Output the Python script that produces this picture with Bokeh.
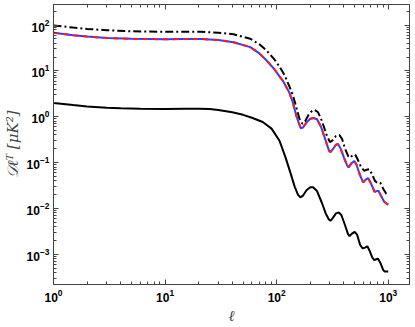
from bokeh.plotting import figure
from bokeh.models import Range1d, LogAxis, LogTicker, LogTickFormatter, CustomJSTickFormatter
from bokeh.embed import file_html
from bokeh.resources import INLINE

# multipole ell and D_ell^T values
ell_total = [1, 1.5, 2, 3, 5, 10, 15, 21, 30, 41, 58, 70, 81, 95, 106, 118, 130, 140, 150,
             160, 170, 180, 195, 210, 220, 235, 255, 280, 300, 315, 340, 365, 385, 410,
             440, 455, 480, 505, 530, 570, 610, 640, 675, 710, 760, 790, 820, 850, 900, 960, 1000]
d_total = [98, 88, 82, 77, 73, 71, 71, 71, 68, 63, 50, 38, 28, 18, 12.4, 8, 4.6, 2.9, 1.6,
           0.9, 0.7, 0.8, 1.15, 1.38, 1.4, 1.25, 0.8, 0.4, 0.28, 0.3, 0.38, 0.4, 0.33, 0.2,
           0.135, 0.128, 0.145, 0.15, 0.12, 0.08, 0.066, 0.07, 0.072, 0.058, 0.04, 0.037, 0.038,
           0.036, 0.027, 0.021, 0.02]

ell_main = [1, 1.5, 2, 3, 5, 10, 15, 21, 30, 41, 58, 70, 81, 95, 106, 114, 130, 140, 150,
            158, 165, 172, 185, 200, 215, 230, 250, 275, 295, 303, 320, 340, 354, 375, 400,
            425, 440, 465, 497, 520, 555, 596, 625, 660, 700, 755, 790, 819, 860, 920, 977, 1000]
d_main = [68, 60, 56, 52, 50, 49, 49.5, 49.6, 47, 42, 33, 24, 17, 11, 7.6, 6.0, 3.35, 2.0, 1.05,
          0.72, 0.56, 0.58, 0.75, 0.9, 0.94, 0.88, 0.6, 0.3, 0.18, 0.169, 0.2, 0.245, 0.254, 0.2,
          0.13, 0.09, 0.078, 0.095, 0.108, 0.09, 0.055, 0.037, 0.042, 0.046, 0.035, 0.023, 0.024,
          0.024, 0.019, 0.014, 0.0125, 0.0122]

ell_small = [1, 1.5, 2, 3, 4, 6, 10, 15, 20, 25, 30, 40, 50, 60, 75, 90, 106, 120, 134, 145,
             155, 163, 172, 185, 200, 212, 230, 255, 275, 293, 305, 320, 340, 360, 380, 410,
             435, 450, 470, 500, 525, 560, 590, 620, 650, 680, 720, 750, 780, 810, 850, 900,
             930, 1000]
d_small = [2.0, 1.8, 1.68, 1.58, 1.53, 1.5, 1.48, 1.49, 1.5, 1.47, 1.4, 1.25, 1.1, 0.95, 0.77,
           0.55, 0.3, 0.13, 0.056, 0.03, 0.02, 0.0174, 0.019, 0.025, 0.029, 0.029, 0.024, 0.013,
           0.0078, 0.0058, 0.0054, 0.0063, 0.0078, 0.0082, 0.0072, 0.0043, 0.0028, 0.0025,
           0.0028, 0.0031, 0.0027, 0.0016, 0.00135, 0.0014, 0.0015, 0.0012, 0.00085, 0.00075,
           0.00078, 0.0008, 0.00065, 0.00046, 0.00042, 0.00042]

x_range = (1, 1550)
y_range = (2.2e-4, 280)

p = figure(frame_width=356, frame_height=280, x_axis_type="log", y_axis_type="log",
           x_range=Range1d(*x_range), y_range=Range1d(*y_range),
           output_backend="svg", toolbar_location=None,
           min_border_left=0, min_border_right=0, min_border_top=0, min_border_bottom=0)
p.grid.visible = False
p.outline_line_color = "#444444"
p.background_fill_color = "white"

p.line(ell_total, d_total, line_color="black", line_width=2, line_dash="8 3 2 3")
p.line(ell_main, d_main, line_color="#3a3aff", line_width=2)
p.line(ell_main, d_main, line_color="#ff1a1a", line_width=2, line_dash="5 5")
p.line(ell_small, d_small, line_color="black", line_width=2)

def style(ax, labels=True):
    ax.ticker = LogTicker(num_minor_ticks=10)
    ax.axis_line_color = "#444444"
    ax.major_tick_in = 5
    ax.major_tick_out = 0
    ax.minor_tick_in = 3
    ax.minor_tick_out = 0
    ax.major_tick_line_color = "#444444"
    ax.minor_tick_line_color = "#444444"
    if labels:
        ax.formatter = LogTickFormatter()
        ax.major_label_text_font = "Liberation Sans"
        ax.major_label_text_font_style = "bold"
        ax.major_label_text_font_size = "12px"
        ax.major_label_text_color = "black"
        ax.major_label_standoff = 4
    else:
        ax.formatter = CustomJSTickFormatter(code="return ' '")
        ax.major_label_text_font_size = "1px"
        ax.major_label_standoff = 0

style(p.xaxis[0])
style(p.yaxis[0])
p.xaxis[0].axis_label = "ℓ"
p.yaxis[0].axis_label = "𝒟ℓᵀ [μK²]"
for ax in (p.xaxis[0], p.yaxis[0]):
    ax.axis_label_text_font = "DejaVu Serif"
    ax.axis_label_text_font_style = "italic"
    ax.axis_label_text_font_size = "15px"
    ax.axis_label_text_color = "#444444"
    ax.axis_label_standoff = 2

top = LogAxis()
right = LogAxis()
style(top, labels=False)
style(right, labels=False)
p.add_layout(top, "above")
p.add_layout(right, "right")

open("out.html", "w").write(file_html(p, INLINE))
